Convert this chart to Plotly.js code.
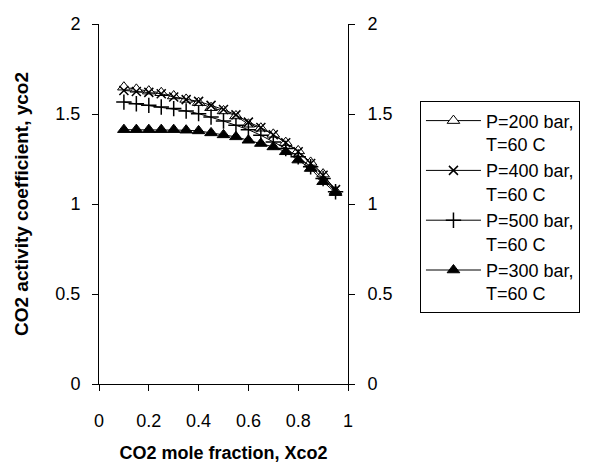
<!DOCTYPE html>
<html>
<head>
<meta charset="utf-8">
<script src="https://cdn.plot.ly/plotly-3.0.1.min.js"></script>
<style>html,body{margin:0;padding:0;background:#fff;}#chart{width:593px;height:463px;}</style>
</head>
<body>
<div id="chart"></div>
<script>
const xco2 = [0.10,0.15,0.20,0.25,0.30,0.35,0.40,0.45,0.50,0.55,0.60,0.65,0.70,0.75,0.80,0.85,0.90,0.95];
const p200 = [1.649,1.637,1.627,1.618,1.600,1.581,1.563,1.535,1.517,1.489,1.443,1.421,1.387,1.341,1.295,1.231,1.166,1.070];
const p400 = [1.631,1.625,1.620,1.613,1.594,1.580,1.570,1.548,1.525,1.495,1.455,1.425,1.385,1.340,1.290,1.225,1.160,1.080];
const p500 = [1.566,1.557,1.548,1.539,1.530,1.517,1.502,1.483,1.461,1.437,1.413,1.382,1.345,1.308,1.262,1.207,1.142,1.068];
const p300 = [1.413,1.413,1.413,1.413,1.413,1.410,1.406,1.395,1.384,1.373,1.354,1.336,1.317,1.290,1.244,1.197,1.124,1.063];
const names = ['P=200 bar,<br>T=60 C','P=400 bar,<br>T=60 C','P=500 bar,<br>T=60 C','P=300 bar,<br>T=60 C'];
const xTicks = [0,0.2,0.4,0.6,0.8,1];
const xTickText = ['0','0.2','0.4','0.6','0.8','1'];
const yTicks = [0,0.5,1,1.5,2];
const yTickText = ['0','0.5','1','1.5','2'];

const font = 'Arial, "Liberation Sans", sans-serif';
const line = {color:'#000', width:1};
const traces = [
  {x:xco2, y:p200, name:names[0], legendgroup:'a', mode:'lines+markers', line:line,
   marker:{symbol:'triangle-up', size:11, color:'#fff', line:{color:'#000', width:1}}},
  {x:xco2, y:p400, name:names[1], legendgroup:'b', mode:'lines+markers', line:line,
   marker:{symbol:'x-thin-open', size:9, color:'#000', line:{color:'#000', width:1.5}}},
  {x:xco2, y:p500, name:names[2], legendgroup:'c', mode:'lines+markers', line:line,
   marker:{symbol:'cross-thin-open', size:11, color:'#000', line:{color:'#000', width:1.5}}},
  {x:xco2, y:p300, name:names[3], legendgroup:'d', mode:'lines+markers', line:line,
   marker:{symbol:'triangle-up', size:11, color:'#000', line:{color:'#000', width:1}}},
  {x:[], y:[], yaxis:'y2', showlegend:false, hoverinfo:'skip'}
];

const layout = {
  width:593, height:463,
  margin:{l:99, r:245, t:24, b:79},
  paper_bgcolor:'#fff', plot_bgcolor:'#fff',
  font:{family:font, size:18, color:'#000'},
  showlegend:true,
  xaxis:{range:[0,1], tickvals:xTicks, ticktext:xTickText, ticks:'outside', ticklen:6, tickcolor:'#000',
         showline:true, linecolor:'#000', linewidth:1, showgrid:false, zeroline:false, ticklabelstandoff:14,
         tickfont:{family:font, size:18},
         title:{text:'<b>CO2 mole fraction, Xco2</b>', font:{family:font, size:18}, standoff:16}},
  yaxis:{range:[0,2], tickvals:yTicks, ticktext:yTickText, ticks:'outside', ticklen:6, tickcolor:'#000',
         showline:true, linecolor:'#000', linewidth:1, showgrid:false, zeroline:false, ticklabelstandoff:8,
         tickfont:{family:font, size:18},
         title:{text:'<b>CO2 activity coefficient, yco2</b>', font:{family:font, size:19}, standoff:21}},
  yaxis2:{range:[0,2], overlaying:'y', side:'right', tickvals:yTicks, ticktext:yTickText, ticks:'outside', ticklen:6,
          tickfont:{family:font, size:18},
          tickcolor:'#000', showline:true, linecolor:'#000', linewidth:1, showgrid:false, zeroline:false, ticklabelstandoff:9},
  legend:{x:1.289, xanchor:'left', y:0.785, yanchor:'top', bordercolor:'#000', borderwidth:1,
          font:{family:font, size:18}, tracegroupgap:0, itemwidth:55, valign:'top', bgcolor:'#fff'}
};
Plotly.newPlot('chart', traces, layout, {displayModeBar:false, staticPlot:true});
</script>
</body>
</html>
